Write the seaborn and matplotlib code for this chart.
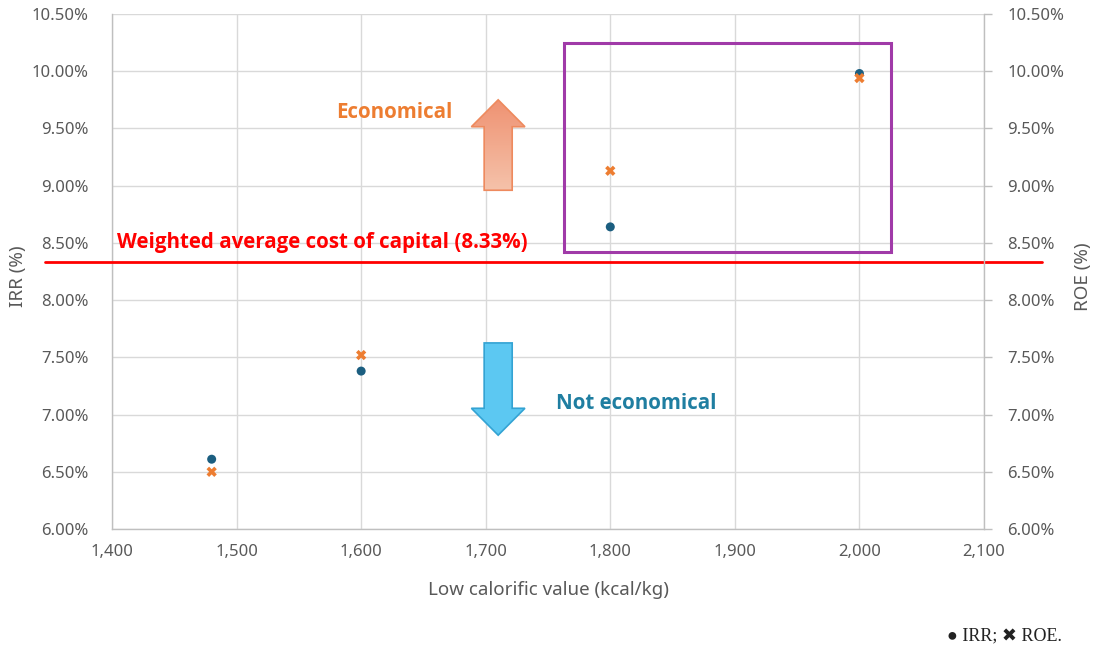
import numpy as np
import matplotlib
matplotlib.use("Agg")
import matplotlib.pyplot as plt
import matplotlib.transforms as mtransforms
from matplotlib.patches import Rectangle, Polygon
from matplotlib.colors import LinearSegmentedColormap
from matplotlib.ticker import FuncFormatter
import pandas as pd
import seaborn as sns

# Calorific value (kcal/kg) and the resulting returns (%)
calorific = [1480, 1600, 1800, 2000]
irr = [6.61, 7.38, 8.64, 9.98]
roe = [6.50, 7.52, 9.13, 9.94]
wacc = 8.33

x_ticks = [1400, 1500, 1600, 1700, 1800, 1900, 2000, 2100]
y_ticks = [6.0, 6.5, 7.0, 7.5, 8.0, 8.5, 9.0, 9.5, 10.0, 10.5]

IRR_COLOR = "#1B5E80"
ROE_COLOR = "#ED7D31"
GRID = "#D9D9D9"
TEXT_GRAY = "#595959"
BOLD_FONT = ["Open Sans", "DejaVu Sans"]

sns.set_theme(style="whitegrid")
plt.rcParams["font.family"] = ["Noto Sans", "DejaVu Sans"]

fig = plt.figure(figsize=(10.96, 6.48), dpi=100)
ax = fig.add_axes([0.1022, 0.1836, 0.7956, 0.7948])
ax2 = ax.twinx()

df = pd.DataFrame({"lcv": calorific, "irr": irr, "roe": roe})

sns.scatterplot(data=df, x="lcv", y="irr", ax=ax, color=IRR_COLOR, s=42,
                marker="o", edgecolor="none", zorder=5)
sns.scatterplot(data=df, x="lcv", y="roe", ax=ax2, color=ROE_COLOR, s=55,
                marker="X", edgecolor="none", zorder=4)

for a in (ax, ax2):
    a.set_xlim(x_ticks[0], x_ticks[-1])
    a.set_ylim(y_ticks[0], y_ticks[-1])
    a.set_yticks(y_ticks)
    a.yaxis.set_major_formatter(FuncFormatter(lambda v, p: f"{v:.2f}%"))
    for s in a.spines.values():
        s.set_visible(False)

ax.set_xticks(x_ticks)
ax.xaxis.set_major_formatter(FuncFormatter(lambda v, p: f"{int(v):,}"))
ax.grid(True, color=GRID, linewidth=1.0)
ax2.grid(False)
ax.set_facecolor("white")
ax2.patch.set_visible(False)

for side in ("left", "bottom"):
    ax.spines[side].set_visible(True)
    ax.spines[side].set_color("#BFBFBF")
    ax.spines[side].set_linewidth(1.0)
ax2.spines["right"].set_visible(True)
ax2.spines["right"].set_color("#BFBFBF")
ax2.spines["right"].set_linewidth(1.0)

ax.tick_params(axis="y", length=0, pad=17, labelsize=12, labelcolor=TEXT_GRAY)
ax.tick_params(axis="x", length=0, pad=11, labelsize=12, labelcolor=TEXT_GRAY)
ax2.tick_params(axis="y", length=6, width=1.0, color="#BFBFBF", pad=11,
                labelsize=12, labelcolor=TEXT_GRAY, right=True)

ax.set_xlabel("Low calorific value (kcal/kg)", fontsize=13.5, color=TEXT_GRAY)
ax.set_ylabel("IRR (%)", fontsize=13.5, color=TEXT_GRAY)
ax2.set_ylabel("ROE (%)", fontsize=13.5, color=TEXT_GRAY)
ax.xaxis.set_label_coords(0.5, -0.118)
ax.yaxis.set_label_coords(-0.108, 0.49)
ax2.yaxis.set_label_coords(1.1135, 0.49)
ax.xaxis.label.set_va("center")
ax.yaxis.label.set_va("center")
ax2.yaxis.label.set_va("center")

# Weighted average cost of capital threshold, running past the plot edges
trans = mtransforms.blended_transform_factory(ax.transAxes, ax.transData)
ax.plot([-0.077, 1.066], [wacc, wacc], transform=trans, color="#FF0000",
        linewidth=2.0, clip_on=False, zorder=6)
ax.text(1404, 8.50, f"Weighted average cost of capital ({wacc:.2f}%)",
        color="#FF0000", fontsize=14.8, fontweight="bold", family=BOLD_FONT,
        va="center", ha="left", zorder=7)

# Highlight box around the economical cases
ax.add_patch(Rectangle((1763, 8.42), 262, 1.83, fill=False, edgecolor="#A03AA8",
                       linewidth=2.2, zorder=6))


def block_arrow(xc, y_tail, y_tip, shaft_w, head_w, head_len):
    sgn = 1 if y_tip > y_tail else -1
    y_base = y_tip - sgn * head_len
    return [(xc - shaft_w / 2, y_tail), (xc - shaft_w / 2, y_base),
            (xc - head_w / 2, y_base), (xc, y_tip), (xc + head_w / 2, y_base),
            (xc + shaft_w / 2, y_base), (xc + shaft_w / 2, y_tail)]


# Upward arrow with soft orange gradient
up_pts = block_arrow(1710, 8.96, 9.75, 22.5, 43, 0.235)
up = Polygon(up_pts, closed=True, facecolor="none", edgecolor="#EE8A5E",
             linewidth=1.2, zorder=6)
ax.add_patch(up)
grad = np.linspace(0, 1, 256).reshape(-1, 1)
cmap_up = LinearSegmentedColormap.from_list("up", ["#F5C2AA", "#EF9272"])
img = ax.imshow(grad, extent=[1688, 1732, 8.96, 9.75], origin="lower",
                cmap=cmap_up, aspect="auto", zorder=5)
img.set_clip_path(up)

# Downward arrow in sky blue
down_pts = block_arrow(1710, 7.626, 6.82, 22.5, 43, 0.235)
ax.add_patch(Polygon(down_pts, closed=True, facecolor="#5CC8F2", edgecolor="#34A3D3",
                     linewidth=1.2, zorder=6))

ax.set_xlim(x_ticks[0], x_ticks[-1])
ax.set_ylim(y_ticks[0], y_ticks[-1])

ax.text(1627, 9.64, "Economical", color=ROE_COLOR, fontsize=14.8, fontweight="bold",
        family=BOLD_FONT, ha="center", va="center", zorder=7)
ax.text(1821, 7.10, "Not economical", color="#1F7EA1", fontsize=14.8, fontweight="bold",
        family=BOLD_FONT, ha="center", va="center", zorder=7)

# Marker key
fig.text(0.969, 0.006, "● IRR; ✖ ROE.", ha="right", va="bottom", fontsize=13,
         color="#222222", family=["Liberation Serif", "DejaVu Sans"])

fig.savefig("out.png", dpi=100, facecolor="white")
